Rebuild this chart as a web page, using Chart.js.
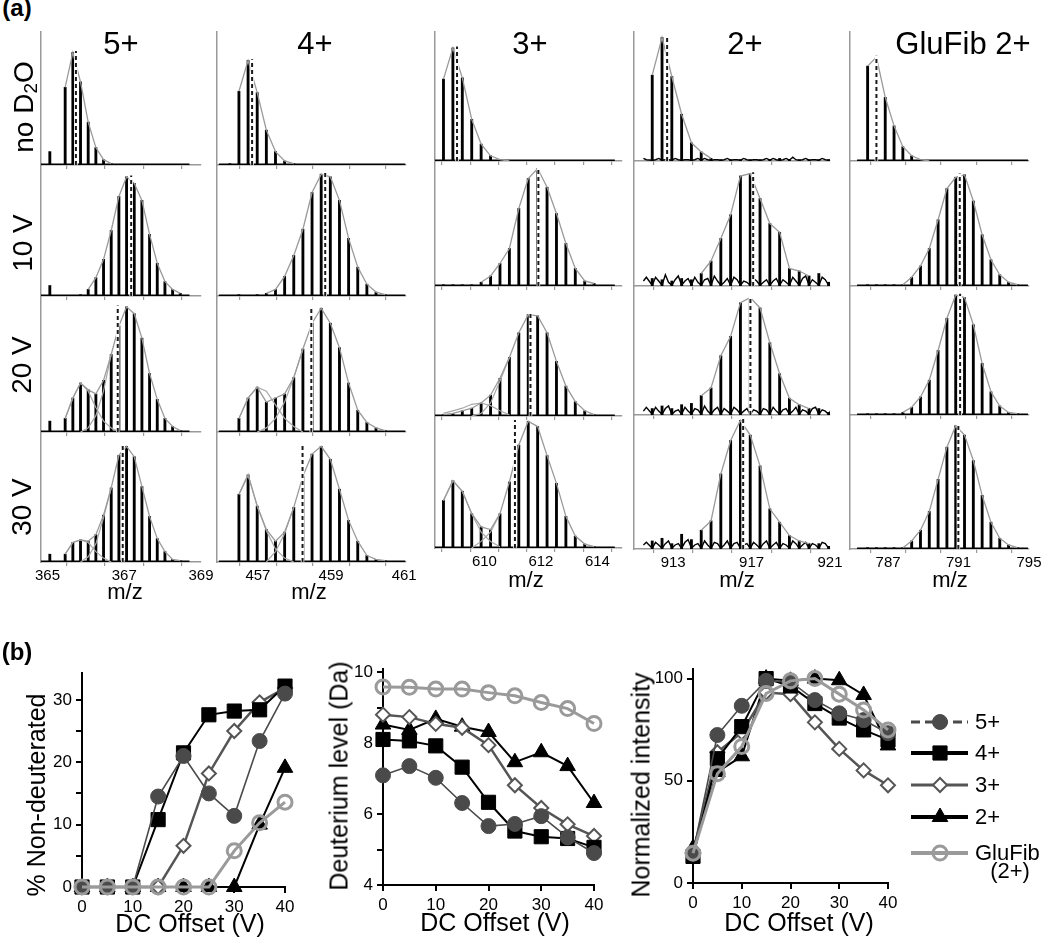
<!DOCTYPE html>
<html><head><meta charset="utf-8">
<script src="https://cdn.jsdelivr.net/npm/chart.js@4.4.1/dist/chart.umd.min.js"></script>
<style>
html,body{margin:0;padding:0;background:#fff;}
body{width:1050px;height:939px;position:relative;overflow:hidden;font-family:"Liberation Sans",Arial,sans-serif;}
.t{position:absolute;white-space:nowrap;color:#000;line-height:1;}
.t sub{font-size:0.68em;vertical-align:-0.25em;}
canvas{position:absolute;}
</style></head><body>
<script>
// ===================== DATA =====================
// Panel (a): isotope peak intensities (% of row height), one array per spectrum
const colTitles = ['5+', '4+', '3+', '2+', 'GluFib 2+'];
const rowLabels = ['no D<sub>2</sub>O', '10 V', '20 V', '30 V'];
const chargeState = [5, 4, 3, 2, 2];
const isotopeStart = [365.06, 456.23, 608.55, 911.93, 785.84];

const spec5_noD2O = [10,0,58,84,62,32,13,4,1,0,0,0,0,0,0,0,0,0];
const spec5_10V   = [8,0,0,0,1,5,14,28,50,76,91,86,73,47,25,11,5,2];
const spec5_20V   = [8,0,10,25,36,31,28,38,57,78,92,87,69,43,24,10,4,1];
const spec5_30V   = [6,0,6,15,17,16,21,36,57,82,89,81,58,35,18,8,2,1];

const spec4_noD2O = [1,55,78,54,26,10,3,1,0,0,0,0,0,0,0,0,0,0,0];
const spec4_10V   = [0,1,0,1,2,5,15,31,51,79,93,91,73,44,22,9,3,1,0];
const spec4_20V   = [0,10,25,33,22,25,28,40,61,80,91,80,62,36,16,7,3,1,0];
const spec4_30V   = [0,52,67,43,25,16,23,42,66,83,89,79,56,32,16,5,2,1,0];

const spec3_noD2O = [63,87,64,32,13,4,1,0,0,0,0,0,0,0,0,0,0,0];
const spec3_10V   = [1,1,1,1,3,8,18,30,62,86,94,79,58,34,14,4,2,0];
const spec3_20V   = [1,2,4,6,10,16,29,45,64,78,77,64,42,23,11,4,1,0];
const spec3_30V   = [36,51,43,26,16,14,26,50,78,96,92,70,49,24,9,3,1,0];

const spec2_noD2O = [66,95,65,36,14,7,2,1,1,1,1,1,1,2,1,1,1,1,1];
const spec2_10V   = [6,5,4,6,5,10,20,38,57,88,90,70,50,43,14,12,8,10,3];
const spec2_20V   = [5,7,5,8,9,15,21,46,61,87,91,83,56,32,13,8,5,5,2];
const spec2_30V   = [6,8,4,11,7,14,21,56,81,96,85,62,30,20,10,6,4,4,2];

const specGlu_noD2O = [73,80,49,27,11,4,1,0,0,0,0,0,0,0,0,0,0,0];
const specGlu_10V   = [1,1,1,1,1,7,16,30,53,78,87,89,68,41,21,9,3,1];
const specGlu_20V   = [1,1,1,1,2,6,14,27,50,75,93,91,70,40,18,7,2,1];
const specGlu_30V   = [1,1,1,1,1,6,14,28,52,76,92,85,66,40,20,8,3,1];

// baseline noise between peaks (2+ spectra), two readings per gap
const noise2_noD2O = [1,2,1,1,2,1,1,1,1,2,2,1,1,1,1,2,1,1,2,1,1,1,1,2,2,1,1,2,3,1,1,2,1,1,2,1,1,1];
const noise2_10V   = [7,4,9,3,5,8,4,6,7,3,5,6,8,4,3,6,7,5,4,3,6,4,3,5,4,6,5,3,7,4,6,8,5,3,7,5,4,2];
const noise2_20V   = [6,3,5,7,3,4,6,3,5,4,7,3,4,6,5,3,6,4,3,5,4,3,5,4,6,3,4,5,3,6,4,3,5,6,4,3,5,2];
const noise2_30V   = [5,3,4,6,3,4,5,7,3,4,6,3,5,4,3,6,4,5,3,4,5,3,4,6,3,5,4,3,6,4,3,5,4,3,5,4,3,2];

// fitted sub-populations (bimodal spectra)
const N = null;
const comp5_20V_low  = [N,N,10,25,36,30,18,8,3,0,N,N,N,N,N,N,N,N];
const comp5_20V_high = [N,N,N,N,0,3,12,30,57,N,N,N,N,N,N,N,N,N];
const comp5_30V_low  = [N,N,6,15,17,15,8,3,0,N,N,N,N,N,N,N,N,N];
const comp5_30V_high = [N,N,N,N,0,4,14,34,57,N,N,N,N,N,N,N,N,N];
const comp4_20V_low  = [N,10,25,33,30,20,10,4,0,N,N,N,N,N,N,N,N,N,N];
const comp4_20V_high = [N,N,N,0,3,10,22,40,61,N,N,N,N,N,N,N,N,N,N];
const comp4_30V_low  = [N,52,67,43,24,10,3,0,N,N,N,N,N,N,N,N,N,N,N];
const comp4_30V_high = [N,N,N,N,0,8,22,42,N,N,N,N,N,N,N,N,N,N,N];
const comp3_20V_low  = [2,4,6,9,10,8,4,1,N,N,N,N,N,N,N,N,N,N];
const comp3_20V_high = [N,N,N,0,2,10,27,45,N,N,N,N,N,N,N,N,N,N];
const comp3_30V_low  = [36,51,43,26,12,5,1,N,N,N,N,N,N,N,N,N,N,N];
const comp3_30V_high = [N,N,N,0,5,12,26,N,N,N,N,N,N,N,N,N,N,N];

// envelope index ranges [first, last]
const env5 = [[2,8],[5,17],[2,17],[2,17]];
const env4 = [[1,7],[4,17],[1,17],[1,17]];
const env3 = [[0,7],[4,16],[0,16],[0,16]];
const env2 = [[0,6],[5,16],[5,16],[5,16]];
const envGlu = [[0,7],[4,17],[4,17],[4,17]];

// centroid m/z (dashed lines)
const centroid5 = [365.74, 367.18, 366.83, 366.96];
const centroid4 = [456.84, 458.84, 458.46, 458.22];
const centroid3 = [609.03, 611.91, 611.63, 611.08];
const centroid2 = [912.69, 917.08, 916.94, 916.57];
const centroidGlu = [786.34, 791.07, 791.09, 790.99];

// m/z axis ticks
const mzTicks5 = [365,366,367,368,369], mzLabels5 = [365,367,369];
const mzTicks4 = [456,457,458,459,460,461], mzLabels4 = [457,459,461];
const mzTicks3 = [609,610,611,612,613,614], mzLabels3 = [610,612,614];
const mzTicks2 = [911,913,915,917,919,921], mzLabels2 = [913,917,921];
const mzTicksGlu = [785,787,789,791,793,795], mzLabelsGlu = [787,791,795];

// Panel (b)
const dcOffset = [0,5,10,15,20,25,30,35,40];
const seriesNames = ['5+','4+','3+','2+','GluFib'];
const nonDeut5   = [0,0,0,14.5,21,15,11.4,23.4,31];
const nonDeut4   = [0,0,0,10.8,21.5,27.6,28.2,28.4,32.2];
const nonDeut3   = [0,0,0,0,6.6,18.2,25,29.6,31.9];
const nonDeut2   = [0,0,0,0,0,0,0,10,19.1];
const nonDeutGlu = [0,0,0,0,0,0,5.8,10.3,13.6];
const deut5   = [7.09,7.35,7.02,6.31,5.66,5.72,5.94,5.34,4.9];
const deut4   = [8.1,8.06,7.92,7.32,6.33,5.52,5.36,5.31,5.06];
const deut3   = [8.8,8.73,8.54,8.43,7.94,6.81,6.17,5.71,5.38];
const deut2   = [8.52,8.37,8.68,8.46,8.31,7.46,7.74,7.35,6.31];
const deutGlu = [9.58,9.57,9.52,9.52,9.42,9.33,9.14,8.97,8.55];
const int5   = [14.6,72.4,86.7,98.9,98.5,89.5,83,79.7,73.3];
const int4   = [13,60.8,76.5,100,96.4,87.8,80.7,74.9,70];
const int3   = [14.6,64,73.7,93.2,92.4,78.6,65.6,55.1,47.8];
const int2   = [17,54.3,62,100,98.9,100,99.2,92,67.3];
const intGlu = [14.6,53.5,66.8,92.7,98.9,100,92.4,84.6,74.9];
const dcTicks = [0,10,20,30,40];
const nonDeutTicks = [0,5,10,15,20,25,30], nonDeutLabels = [0,10,20,30];
const deutTicks = [4,5,6,7,8,9,10], deutLabels = [4,6,8,10];
const intTicks = [0,50,100], intLabels = [0,50,100];

// ===================== LAYOUT / STYLE =====================
const FF = '"Liberation Sans", Arial, sans-serif';
const spectra = [
  [spec5_noD2O, spec5_10V, spec5_20V, spec5_30V],
  [spec4_noD2O, spec4_10V, spec4_20V, spec4_30V],
  [spec3_noD2O, spec3_10V, spec3_20V, spec3_30V],
  [spec2_noD2O, spec2_10V, spec2_20V, spec2_30V],
  [specGlu_noD2O, specGlu_10V, specGlu_20V, specGlu_30V]
];
const noises = [null, null, null, [noise2_noD2O, noise2_10V, noise2_20V, noise2_30V], null];
const comps = [
  [null, null, [comp5_20V_low, comp5_20V_high], [comp5_30V_low, comp5_30V_high]],
  [null, null, [comp4_20V_low, comp4_20V_high], [comp4_30V_low, comp4_30V_high]],
  [null, null, [comp3_20V_low, comp3_20V_high], [comp3_30V_low, comp3_30V_high]],
  [null, null, null, null], [null, null, null, null]
];
const envs = [env5, env4, env3, env2, envGlu];
const centroids = [centroid5, centroid4, centroid3, centroid2, centroidGlu];
const mzTicks = [mzTicks5, mzTicks4, mzTicks3, mzTicks2, mzTicksGlu];
const mzLabels = [mzLabels5, mzLabels4, mzLabels3, mzLabels2, mzLabelsGlu];

const colGeom = [
  {left:41,  right:200.5, min:364.83, max:369.0,  rows:[31,165,296,432,562], titleX:121, mzX:125, mzY:592},
  {left:217, right:406,   min:455.88, max:461.05, rows:[31,165,296,432,562], titleX:315, mzX:309, mzY:592},
  {left:435, right:622,   min:608.25, max:614.87, rows:[31,161,286,416,548], titleX:530, mzX:526, mzY:580},
  {left:634, right:830,   min:911.0,  max:921.0,  rows:[31,161,286,415,549], titleX:745, mzX:737, mzY:580},
  {left:850, right:1029,  min:784.84, max:795.0,  rows:[31,161,286,415,549], titleX:963, mzX:950, mzY:580}
];

function addText(html, x, y, size, opts) {
  opts = opts || {};
  const d = document.createElement('div');
  d.className = 't';
  d.innerHTML = html;
  d.style.left = x + 'px';
  d.style.top = y + 'px';
  d.style.fontSize = size + 'px';
  if (opts.bold) d.style.fontWeight = 'bold';
  const ax = opts.anchor === 'left' ? '0' : '-50%';
  d.style.transform = 'translate(' + ax + ',-50%)' + (opts.rot ? ' rotate(-90deg)' : '');
  document.body.appendChild(d);
}

function makeCanvas(L, T, W, H) {
  const cv = document.createElement('canvas');
  cv.width = W; cv.height = H;
  cv.style.left = L + 'px'; cv.style.top = T + 'px';
  cv.style.width = W + 'px'; cv.style.height = H + 'px';
  document.body.appendChild(cv);
  return cv;
}

// ---------- Panel (a) cells ----------
function makeCell(ci, ri) {
  const g = colGeom[ci];
  const top = g.rows[ri], base = g.rows[ri + 1];
  const bottomRow = ri === 3;
  const padL = 14, padR = 16;
  const extra = bottomRow ? 30 : 6;
  const W = Math.round(g.right - g.left) + padL + padR;
  const H = Math.round(base - top) + extra;
  const cv = makeCanvas(Math.round(g.left) - padL, Math.round(top), W, H);
  const pk = spectra[ci][ri];
  const z = chargeState[ci], x0 = isotopeStart[ci];
  const xs = pk.map((_, i) => x0 + i / z);
  const ds = [];
  const c = centroids[ci][ri];
  const h = Math.max.apply(null, pk) + 1;
  ds.push({type:'line', data:[{x:c,y:0},{x:c,y:h}], borderColor:'#1a1a1a', borderWidth:2, borderDash:[4,3], pointRadius:0});
  ds.push({type:'line', data:[{x:c,y:0},{x:c,y:h}], borderColor:'#ffffff', borderWidth:3.5, pointRadius:0});
  const er = envs[ci][ri];
  const envData = [];
  for (let i = er[0]; i <= er[1]; i++) envData.push({x: xs[i], y: pk[i]});
  ds.push({type:'line', data: envData, borderColor:'#9a9a9a', borderWidth:1.3, pointRadius:0, tension:0});
  const cp = comps[ci][ri];
  if (cp) cp.forEach(arr => {
    const d = [];
    arr.forEach((v, i) => { if (v !== null) d.push({x: xs[i], y: v}); });
    ds.push({type:'line', data:d, borderColor:'#a8a8a8', borderWidth:1.2, pointRadius:0, tension:0});
  });
  ds.push({type:'bar', data: xs.map((x, i) => ({x, y: pk[i]})), backgroundColor:'#000', barThickness:2.2, grouped:false});
  const nz = noises[ci] ? noises[ci][ri] : null;
  const bl = [];
  if (nz) {
    bl.push({x: xs[0] - 0.45, y: nz[1]});
    bl.push({x: xs[0] - 0.3, y: nz[0]});
    xs.forEach((x, i) => {
      bl.push({x, y: 0.6});
      bl.push({x: x + 0.17, y: nz[2 * i]});
      bl.push({x: x + 0.33, y: nz[2 * i + 1]});
    });
  } else {
    bl.push({x: xs[0] - 1.2 / z, y: 0.5});
    bl.push({x: xs[xs.length - 1] + 1.2 / z, y: 0.5});
  }
  ds.push({type:'line', data: bl, borderColor:'#000', borderWidth: nz ? 1.4 : 1.6, pointRadius:0, tension:0});

  new Chart(cv, {
    type: 'bar',
    data: {datasets: ds},
    options: {
      responsive:false, animation:false, devicePixelRatio:1, events:[],
      layout:{autoPadding:false, padding:{left:padL, right:padR, top:0, bottom:0}},
      plugins:{legend:{display:false}, tooltip:{enabled:false}},
      scales:{
        x:{type:'linear', min:g.min, max:g.max, offset:false,
          afterBuildTicks: s => { s.ticks = mzTicks[ci].map(v => ({value:v})); },
          afterFit: s => { s.height = extra; },
          ticks:{display:bottomRow, autoSkip:false, maxRotation:0, minRotation:0, padding:1, color:'#000',
                 font:{family:FF, size:15}, callback: v => mzLabels[ci].includes(v) ? String(v) : ''},
          grid:{display:true, drawOnChartArea:false, drawTicks:true, tickLength:4, color:'#999', lineWidth:1.2},
          border:{display:true, color:'#999', width:1.5}
        },
        y:{type:'linear', min:0, max:100,
          afterFit: s => { s.width = 0; },
          ticks:{display:false}, grid:{display:false, drawTicks:false},
          border:{display:true, color:'#999', width:1.5}
        }
      }
    }
  });
}

for (let ci = 0; ci < 5; ci++) for (let ri = 0; ri < 4; ri++) makeCell(ci, ri);

// ---------- Panel (a) texts ----------
addText('(a)', 17, 8, 24, {bold:true});
colGeom.forEach((g, ci) => {
  addText(colTitles[ci], g.titleX, 43, 31);
  addText('m/z', g.mzX, g.mzY, 22);
});
const rowLabelPos = [[25,107],[23,243],[22,365],[22,507]];
rowLabels.forEach((t, i) => addText(t, rowLabelPos[i][0], rowLabelPos[i][1], 28, {rot:true}));

// ---------- Panel (b) ----------
const styles = {
  s5:  {color:'#4a4a4a', width:1.6, style:'circle',   r:7.5, fill:'#4a4a4a', bw:1},
  s4:  {color:'#000000', width:2,   style:'rect',     r:10,  fill:'#000000', bw:1},
  s3:  {color:'#555555', width:2.5, style:'rectRot',  r:7,   fill:'#ffffff', bw:2},
  s2:  {color:'#000000', width:2,   style:'triangle', r:9,   fill:'#000000', bw:1},
  glu: {color:'#9a9a9a', width:3,   style:'circle',   r:7,   fill:'rgba(255,255,255,0)', bw:3}
};

function makeLineChart(sp) {
  const cv = makeCanvas(sp.L, sp.T, sp.W, sp.H);
  const datasets = sp.series.map(s => ({
    data: dcOffset.map((x, i) => ({x, y: s.v[i]})),
    borderColor: s.st.color, borderWidth: s.st.width,
    pointStyle: s.st.style, pointRadius: s.st.r,
    pointBackgroundColor: s.st.fill, pointBorderColor: s.st.color, pointBorderWidth: s.st.bw,
    clip: false, tension: 0, fill: false
  }));
  const axisTicks = (labels) => ({color:'#000', padding:4, font:{family:FF, size:17}, autoSkip:false, maxRotation:0,
                                  callback: v => labels.includes(v) ? String(v) : ''});
  const grid = {display:true, drawOnChartArea:false, drawTicks:true, tickLength:6, color:'#000', lineWidth:2};
  new Chart(cv, {
    type:'line',
    data:{datasets},
    options:{
      responsive:false, animation:false, devicePixelRatio:1, events:[],
      layout:{autoPadding:false, padding:{left:0, right:sp.padR, top:sp.padT, bottom:0}},
      plugins:{legend:{display:false}, tooltip:{enabled:false}},
      scales:{
        x:{type:'linear', min:0, max:40,
           afterBuildTicks: s => { s.ticks = dcTicks.map(v => ({value:v})); },
           afterFit: s => { s.height = sp.xH; },
           ticks: axisTicks(dcTicks), grid, border:{display:true, color:'#000', width:2}},
        y:{type:'linear', min:sp.ymin, max:sp.ymax,
           afterBuildTicks: s => { s.ticks = sp.yTicks.map(v => ({value:v})); },
           afterFit: s => { s.width = sp.yW; },
           ticks: axisTicks(sp.yLabels), grid, border:{display:true, color:'#000', width:2}}
      }
    },
    plugins: sp.plugins || []
  });
}

makeLineChart({L:0, T:655, W:300, H:284, padR:15, padT:18, xH:52, yW:82, ymin:0, ymax:34.3,
  yTicks:nonDeutTicks, yLabels:nonDeutLabels,
  series:[{v:nonDeutGlu, st:styles.glu},{v:nonDeut5, st:styles.s5},{v:nonDeut4, st:styles.s4},{v:nonDeut3, st:styles.s3},{v:nonDeut2, st:styles.s2}]});

makeLineChart({L:300, T:655, W:320, H:284, padR:26, padT:10, xH:54, yW:83, ymin:4, ymax:10.08,
  yTicks:deutTicks, yLabels:deutLabels,
  series:[{v:deutGlu, st:styles.glu},{v:deut5, st:styles.s5},{v:deut4, st:styles.s4},{v:deut3, st:styles.s3},{v:deut2, st:styles.s2}]});

const legendOrder = [styles.s5, styles.s4, styles.s3, styles.s2, styles.glu];
const legendY = [722, 753, 785, 817, 853];
function drawMarker(ctx, st, x, y) {
  ctx.save();
  ctx.fillStyle = st.fill; ctx.strokeStyle = st.color; ctx.lineWidth = st.bw;
  ctx.beginPath();
  const r = st.r;
  if (st.style === 'circle') ctx.arc(x, y, r, 0, Math.PI * 2);
  else if (st.style === 'rect') { const s = r * Math.SQRT1_2; ctx.rect(x - s, y - s, 2 * s, 2 * s); }
  else if (st.style === 'rectRot') { ctx.moveTo(x, y - r); ctx.lineTo(x + r, y); ctx.lineTo(x, y + r); ctx.lineTo(x - r, y); ctx.closePath(); }
  else if (st.style === 'triangle') {
    ctx.moveTo(x, y - r); ctx.lineTo(x + r * 0.866, y + r * 0.5); ctx.lineTo(x - r * 0.866, y + r * 0.5); ctx.closePath();
  }
  ctx.fill(); ctx.stroke();
  ctx.restore();
}
const legendPlugin = {
  id:'sideLegend',
  afterDraw(chart) {
    const ctx = chart.ctx;
    const ox = 620, oy = 655;
    legendOrder.forEach((st, i) => {
      const y = legendY[i] - oy;
      ctx.save();
      ctx.strokeStyle = st.color;
      ctx.lineWidth = i === 0 ? 3 : (i === 2 ? 3 : 4);
      if (i === 0) ctx.setLineDash([9, 5]);
      ctx.beginPath(); ctx.moveTo(911 - ox, y); ctx.lineTo(968 - ox, y); ctx.stroke();
      ctx.restore();
      drawMarker(ctx, st, 940 - ox, y);
    });
  }
};

makeLineChart({L:620, T:655, W:430, H:284, padR:162, padT:13, xH:56, yW:73, ymin:0, ymax:104.6,
  yTicks:intTicks, yLabels:intLabels,
  series:[{v:intGlu, st:styles.glu},{v:int5, st:styles.s5},{v:int4, st:styles.s4},{v:int3, st:styles.s3},{v:int2, st:styles.s2}],
  plugins:[legendPlugin]});

// ---------- Panel (b) texts ----------
addText('(b)', 17, 652, 24, {bold:true});
addText('% Non-deuterated', 36, 795, 25, {rot:true});
addText('Deuterium level (Da)', 339, 776, 25, {rot:true});
addText('Normalized intensity', 641, 785, 25, {rot:true});
addText('DC Offset (V)', 190, 923, 25);
addText('DC Offset (V)', 495, 922, 25);
addText('DC Offset (V)', 799, 922, 25);
seriesNames.slice(0, 4).forEach((n, i) => addText(n, 975, legendY[i], 22, {anchor:'left'}));
addText('GluFib', 975, 853, 22, {anchor:'left'});
addText('(2+)', 1010, 871, 22);
</script>
</body></html>
